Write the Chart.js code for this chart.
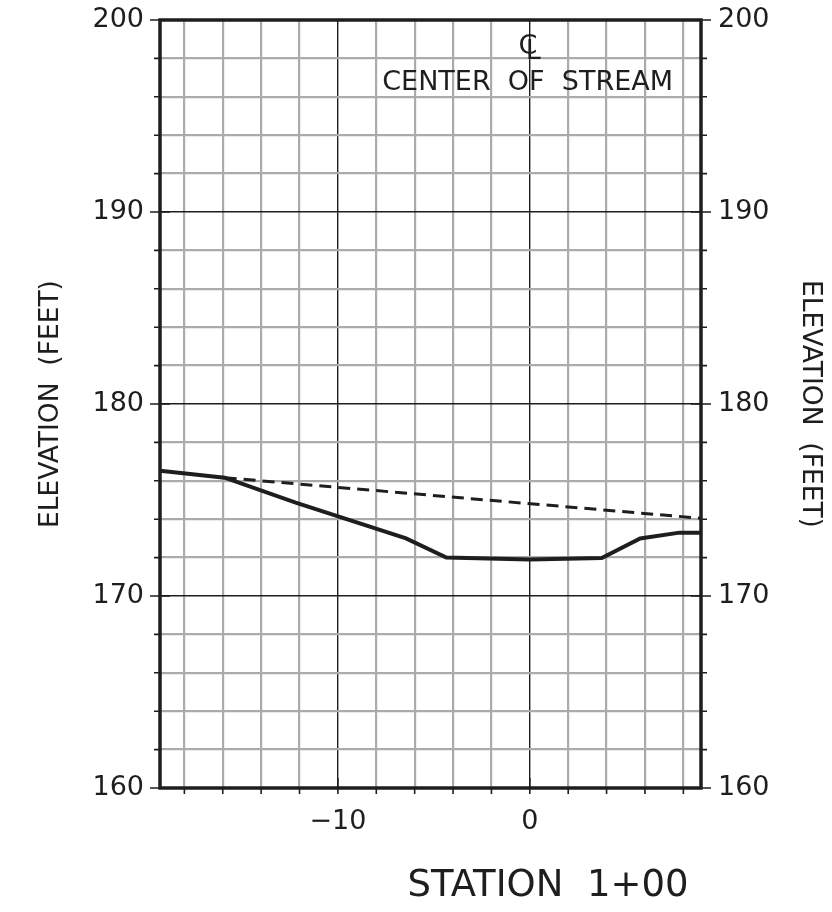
<!DOCTYPE html>
<html><head><meta charset="utf-8">
<script src="https://cdn.jsdelivr.net/npm/chart.js@4/dist/chart.umd.min.js"></script>
<style>html,body{margin:0;padding:0;background:#fff;} #wrap{width:832px;height:912px;position:relative}</style>
</head><body><div id="wrap"><canvas id="c" width="832" height="912"></canvas></div>
<script>
// ---- data ----
const stations    = [-19.27, -15.9, -12.2, -6.45, -4.35, 0, 3.75, 5.75, 7.8, 8.92];
const groundElev  = [176.52, 176.16, 174.86, 173.0, 172.0, 171.9, 171.98, 173.0, 173.3, 173.3];
const waterStations = [-15.9, 8.92];
const waterElev     = [176.16, 174.05];
const xRange = [-19.27, 8.92];
const yRange = [160, 200];
const xLabelValues = [-10, 0];
const yLabelValues = [160, 170, 180, 190, 200];
const noteText = 'CENTER  OF  STREAM';
const xTitle = 'STATION  1+00';
const yTitle = 'ELEVATION  (FEET)';

const INK = '#1e1e1e';
const GRAY = '#ababab';
const FONT = 'DejaVu Sans';
const WEIGHT = 'normal';

const isMajor = v => Math.abs(v % 10) < 1e-9;
const fmt = v => (v < 0 ? '\u2212' + Math.abs(v) : String(v));

const gridOpts = (tl) => ({
  drawTicks: true,
  tickLength: tl,
  tickColor: 'rgba(0,0,0,0)',
  color: c => (c.tick && isMajor(c.tick.value)) ? INK : GRAY,
  lineWidth: c => (c.tick && isMajor(c.tick.value)) ? 1.4 : 2.2
});

const framePlugin = {
  id: 'frame',
  afterDraw(chart) {
    const {ctx, chartArea: a, scales} = chart;
    const xs = scales.x, ys = scales.y;
    ctx.save();
    ctx.strokeStyle = INK;
    ctx.lineCap = 'butt';
    ctx.lineWidth = 1.6;
    for (let v = yRange[0]; v <= yRange[1]; v += 2) {
      const y = ys.getPixelForValue(v);
      ctx.beginPath();
      if (isMajor(v)) {
        ctx.moveTo(a.left - 10, y); ctx.lineTo(a.left + 10, y);
        ctx.moveTo(a.right - 10, y); ctx.lineTo(a.right + 10, y);
      } else {
        ctx.moveTo(a.left - 6, y); ctx.lineTo(a.left, y);
        ctx.moveTo(a.right, y); ctx.lineTo(a.right + 6, y);
      }
      ctx.stroke();
    }
    for (let v = -18; v <= xRange[1]; v += 2) {
      const x = xs.getPixelForValue(v);
      ctx.beginPath();
      ctx.moveTo(x, isMajor(v) ? a.bottom - 10 : a.bottom);
      ctx.lineTo(x, a.bottom + 6);
      ctx.stroke();
    }
    ctx.lineWidth = 3.5;
    ctx.strokeRect(a.left, a.top, a.right - a.left, a.bottom - a.top);

    ctx.fillStyle = INK;
    ctx.textBaseline = 'alphabetic';
    const cx = xs.getPixelForValue(0);
    ctx.font = WEIGHT + ' 27px "' + FONT + '"';
    ctx.textAlign = 'center';
    ctx.fillText('C', cx - 2, 54);
    ctx.textAlign = 'left';
    ctx.fillText('L', cx - 4, 59);
    ctx.textAlign = 'right';
    ctx.fillText(noteText, 673, 90);

    ctx.font = WEIGHT + ' 37px "' + FONT + '"';
    ctx.textAlign = 'center';
    ctx.fillText(xTitle, 548, 896);
    ctx.restore();
  }
};

const tickFont = {family: FONT, size: 27, weight: WEIGHT};
const titleFont = {family: FONT, size: 26.5, weight: WEIGHT};

new Chart(document.getElementById('c'), {
  type: 'scatter',
  data: {
    datasets: [
      {
        label: 'Ground',
        data: stations.map((s, i) => ({x: s, y: groundElev[i]})),
        showLine: true, borderColor: INK, borderWidth: 4, pointRadius: 0,
        tension: 0, borderJoinStyle: 'miter', fill: false
      },
      {
        label: 'Water surface',
        data: waterStations.map((s, i) => ({x: s, y: waterElev[i]})),
        showLine: true, borderColor: INK, borderWidth: 3, borderDash: [12, 7],
        pointRadius: 0, tension: 0, fill: false
      }
    ]
  },
  options: {
    responsive: false, animation: false, devicePixelRatio: 1,
    layout: {padding: {top: 20, left: 0, right: 0, bottom: 0}},
    plugins: {legend: {display: false}, tooltip: {enabled: false}, title: {display: false}},
    scales: {
      x: {
        type: 'linear', position: 'bottom', min: xRange[0], max: xRange[1],
        border: {display: false},
        grid: gridOpts(18),
        ticks: {
          stepSize: 2, includeBounds: false, autoSkip: false, maxRotation: 0, padding: 0,
          color: INK, font: tickFont,
          callback: v => xLabelValues.includes(v) ? fmt(v) : ''
        },
        afterFit: s => { s.height = 124; }
      },
      y: {
        type: 'linear', position: 'left', min: yRange[0], max: yRange[1],
        border: {display: false},
        grid: gridOpts(16),
        ticks: {
          stepSize: 2, includeBounds: false, autoSkip: false, padding: 0,
          color: INK, font: tickFont,
          callback: v => yLabelValues.includes(v) ? fmt(v) : ''
        },
        title: {display: true, text: yTitle, color: INK, font: titleFont, padding: {top: 35, bottom: 0}},
        afterFit: s => { s.width = 160; }
      },
      y2: {
        type: 'linear', position: 'right', min: yRange[0], max: yRange[1],
        border: {display: false},
        grid: {display: true, drawOnChartArea: false, drawTicks: true, tickLength: 17, tickColor: 'rgba(0,0,0,0)'},
        ticks: {
          stepSize: 2, includeBounds: false, autoSkip: false, padding: 0,
          color: INK, font: tickFont,
          callback: v => yLabelValues.includes(v) ? fmt(v) : ''
        },
        title: {display: true, text: yTitle, color: INK, font: titleFont, padding: {top: 6, bottom: 0}},
        afterFit: s => { s.width = 131; }
      }
    }
  },
  plugins: [framePlugin]
});
</script></body></html>
